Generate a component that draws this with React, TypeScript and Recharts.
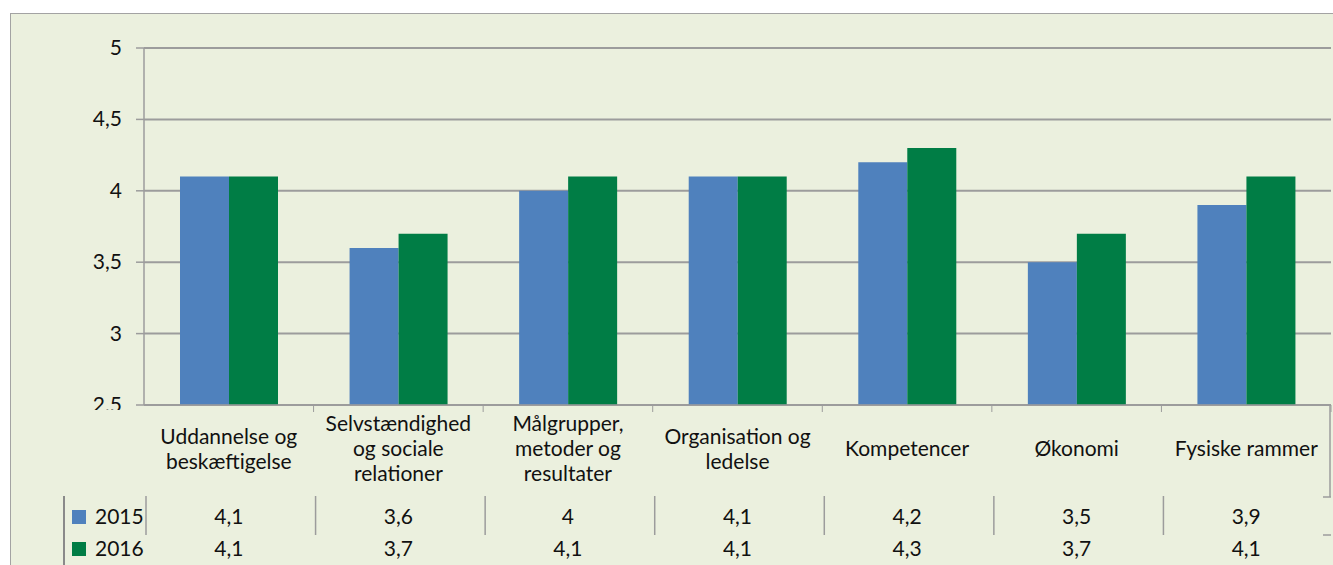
import { BarChart, Bar, XAxis, YAxis, CartesianGrid } from "recharts"

const categories: string[][] = [
  ["Uddannelse og", "beskæftigelse"],
  ["Selvstændighed", "og sociale", "relationer"],
  ["Målgrupper,", "metoder og", "resultater"],
  ["Organisation og", "ledelse"],
  ["Kompetencer"],
  ["Økonomi"],
  ["Fysiske rammer"],
]
const seriesNames = ["2015", "2016"]
const values2015 = [4.1, 3.6, 4, 4.1, 4.2, 3.5, 3.9]
const values2016 = [4.1, 3.7, 4.1, 4.1, 4.3, 3.7, 4.1]
const yTicks = [2.5, 3, 3.5, 4, 4.5, 5]

const data = categories.map((lines, i) => ({
  name: lines.join(" "),
  v2015: values2015[i],
  v2016: values2016[i],
}))

const W = 1333
const H = 565
const PLOT_LEFT = 144
const PLOT_TOP = 48
const PLOT_RIGHT = 1331
const PLOT_BOTTOM = 405
const BAND = (PLOT_RIGHT - PLOT_LEFT) / categories.length

const BLUE = "#4F81BD"
const GREEN = "#007D45"
const LINE = "#9c9c9c"
const TEXT = "#111111"
const FONT = "Lato, 'Open Sans', sans-serif"
const FS = 21

const LABEL_CENTER = 449
const LINE_H = 25
const ROW1 = 517
const ROW2 = 549

const fmt = (v: number) => String(v).replace(".", ",")

function ValueTick(props: any) {
  const { x, y, payload } = props
  const isBottom = payload.value === yTicks[0]
  return (
    <g>
      {isBottom && (
        <defs>
          <clipPath id="bottomTickClip">
            <rect x={0} y={0} width={PLOT_LEFT} height={PLOT_BOTTOM + 5} />
          </clipPath>
        </defs>
      )}
      <text
        x={x}
        y={y}
        dy={7}
        textAnchor="end"
        fill={TEXT}
        fontSize={FS}
        fontFamily={FONT}
        clipPath={isBottom ? "url(#bottomTickClip)" : undefined}
      >
        {fmt(payload.value)}
      </text>
    </g>
  )
}

function CategoryTick(props: any) {
  const { x, index } = props
  const lines = categories[index] ?? []
  const left = x - BAND / 2
  const right = x + BAND / 2
  const startY = LABEL_CENTER - ((lines.length - 1) * LINE_H) / 2
  const isLast = index === categories.length - 1
  return (
    <g fontFamily={FONT} fontSize={FS} fill={TEXT}>
      <line x1={right} x2={right} y1={PLOT_BOTTOM} y2={PLOT_BOTTOM + 7} stroke={LINE} />
      {lines.map((l, i) => (
        <text key={i} x={x} y={startY + i * LINE_H} dy={7} textAnchor="middle">
          {l}
        </text>
      ))}
      <line x1={left + 2} x2={left + 2} y1={496} y2={535} stroke={LINE} strokeWidth={1.5} />
      <text x={x} y={ROW1} dy={7} textAnchor="middle">
        {fmt(values2015[index])}
      </text>
      <text x={x} y={ROW2} dy={7} textAnchor="middle">
        {fmt(values2016[index])}
      </text>
      {isLast && (
        <g stroke={LINE} strokeWidth={1.5}>
          <line x1={right - 1} x2={right - 1} y1={PLOT_BOTTOM} y2={497} />
          <line x1={right - 8} x2={right} y1={497} y2={497} />
          <line x1={right - 8} x2={right} y1={535} y2={535} />
        </g>
      )}
      {index === 0 && (
        <g>
          <line x1={64} x2={64} y1={496} y2={H} stroke="#8a8a8a" strokeWidth={2} />
          <rect x={72} y={510} width={14} height={14} fill={BLUE} />
          <rect x={72} y={542} width={14} height={14} fill={GREEN} />
          <text x={95} y={ROW1} dy={7}>{seriesNames[0]}</text>
          <text x={95} y={ROW2} dy={7}>{seriesNames[1]}</text>
        </g>
      )}
    </g>
  )
}

export default function App() {
  return (
    <div
      style={{
        position: "absolute",
        left: 0,
        top: 0,
        width: W,
        height: H,
        overflow: "hidden",
        background: "#ffffff",
      }}
    >
      <div
        style={{
          position: "absolute",
          left: 10,
          top: 13,
          width: W,
          height: H,
          background: "#EBF0DE",
          border: "1.5px solid #a3a3a3",
        }}
      />
      <div style={{ position: "absolute", left: 0, top: 0 }}>
        <BarChart
          width={W}
          height={H}
          data={data}
          margin={{ top: PLOT_TOP, right: W - PLOT_RIGHT, left: 0, bottom: 0 }}
          barSize={49}
          barGap={0}
        >
          <CartesianGrid vertical={false} stroke={LINE} strokeWidth={2} />
          <YAxis
            domain={[2.5, 5]}
            ticks={yTicks}
            width={PLOT_LEFT}
            tickSize={8}
            tickMargin={14}
            axisLine={{ stroke: LINE, strokeWidth: 1.5 }}
            tickLine={{ stroke: LINE, strokeWidth: 1.5 }}
            tick={<ValueTick />}
            interval={0}
          />
          <XAxis
            dataKey="name"
            height={H - PLOT_BOTTOM}
            axisLine={{ stroke: LINE, strokeWidth: 1.5 }}
            tickLine={false}
            tick={<CategoryTick />}
            interval={0}
          />
          <Bar dataKey="v2015" name={seriesNames[0]} fill={BLUE} isAnimationActive={false} />
          <Bar dataKey="v2016" name={seriesNames[1]} fill={GREEN} isAnimationActive={false} />
        </BarChart>
      </div>
    </div>
  )
}
